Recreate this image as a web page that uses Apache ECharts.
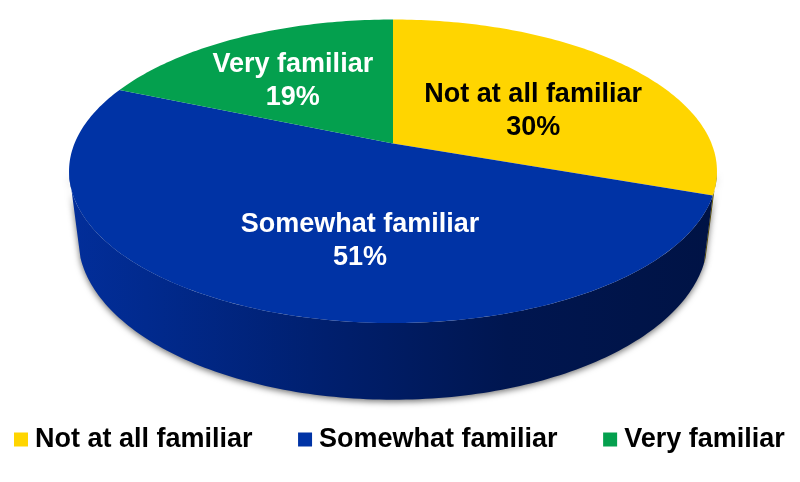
<!DOCTYPE html>
<html>
<head>
<meta charset="utf-8">
<style>html,body{margin:0;padding:0;background:#fff}#c{width:800px;height:482px}</style>
<script src="https://cdn.jsdelivr.net/npm/echarts@6/dist/echarts.min.js"></script>
</head>
<body>
<div id="c"></div>
<script>
const categories = ['Not at all familiar', 'Somewhat familiar', 'Very familiar'];
const shares = [30.4, 51.0, 18.6];

const colors = ['#FFD500', '#0033A5', '#04A04E'];
const labelColors = ['#000000', '#ffffff', '#ffffff'];
const wallColors = ['#6b5c00', null, '#025a2c'];
const labelPlace = [[0.55, 5, 12], [0.55, 37, 15], [0.55, -11, 0]];

const view = { cx: 393, cy: 143.5, rx: 318.5, ry: 146.7, k: 0.183 };
const base = { shift: 65, ryScale: 1.065, shrink: 0.972, from: 107.4, to: 252.6 };
const total = shares.reduce((a, b) => a + b, 0);
const starts = shares.map((_, i) => shares.slice(0, i).reduce((a, b) => a + b, 0) / total * 360);

function project(deg, f, lower) {
  const t = deg * Math.PI / 180;
  const X = Math.sin(t) * f, Y = -Math.cos(t) * f;
  const w = 1 - view.k * Y;
  const sx = lower ? base.shrink : 1, sy = lower ? base.ryScale : 1;
  return [view.cx + sx * view.rx * X / w, view.cy + sy * view.ry * Y / w + (lower ? base.shift : 0)];
}
function arc(a, b, lower) {
  const pts = [], n = Math.max(2, Math.ceil(Math.abs(b - a)));
  for (let i = 0; i <= n; i++) pts.push(project(a + (b - a) * i / n, 1, lower));
  return pts;
}
const frontFrom = 100.5, frontTo = 259.5;
const clampBase = d => Math.min(base.to, Math.max(base.from, d));

function makeRender(idx) {
  return function (params, api) {
    const span = api.value(0) / total * 360;
    const a = starts[idx], b = a + span;
    const children = [];
    const wa = Math.max(a, frontFrom), wb = Math.min(b, frontTo);
    if (wb > wa) {
      const wallPts = arc(wa, wb, false).concat(arc(clampBase(wb), clampBase(wa), true));
      const fill = wallColors[idx] || new echarts.graphic.LinearGradient(0, 0, 1, 0, [
        { offset: 0, color: '#022e9a' },
        { offset: 0.12, color: '#012a8e' },
        { offset: 0.4, color: '#001f6e' },
        { offset: 0.68, color: '#001650' },
        { offset: 1, color: '#001345' }
      ]);
      children.push({
        type: 'polygon', z2: 1, shape: { points: wallPts },
        style: { fill, shadowColor: 'rgba(0,0,0,0.55)', shadowBlur: 6, shadowOffsetX: 0, shadowOffsetY: 2 }
      });
    }
    const face = [[view.cx, view.cy]].concat(arc(a, b, false));
    children.push({ type: 'polygon', z2: 5, shape: { points: face }, style: { fill: colors[idx] } });
    const p = labelPlace[idx];
    const c = project((a + b) / 2, p[0], false);
    children.push({
      type: 'text', z2: 10,
      style: {
        text: categories[idx] + '\n' + Math.round(api.value(0)) + '%',
        x: c[0] + p[1], y: c[1] + p[2],
        align: 'center', verticalAlign: 'middle',
        fill: labelColors[idx],
        fontFamily: '"Liberation Sans", Arial, sans-serif',
        fontWeight: 'bold', fontSize: 27, lineHeight: 33
      }
    });
    return { type: 'group', children };
  };
}

const chart = echarts.init(document.getElementById('c'), null, { renderer: 'canvas' });
chart.setOption({
  animation: false,
  backgroundColor: '#ffffff',
  legend: {
    data: categories, left: 14, top: 426, itemWidth: 14, itemHeight: 14, itemGap: 45.5, padding: 0,
    icon: 'rect', selectedMode: false,
    textStyle: { color: '#000', fontFamily: '"Liberation Sans", Arial, sans-serif', fontWeight: 'bold', fontSize: 27, padding: [0, 0, 0, 2] }
  },
  series: categories.map((name, i) => ({
    type: 'custom', name, coordinateSystem: 'none', silent: true,
    itemStyle: { color: colors[i] },
    renderItem: makeRender(i),
    data: [[shares[i]]]
  }))
});
</script>
</body>
</html>
